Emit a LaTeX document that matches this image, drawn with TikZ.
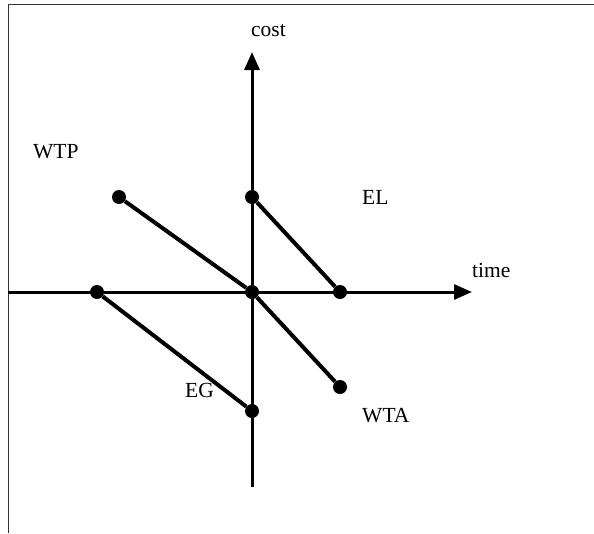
\documentclass[tikz,border=0pt]{standalone}
\usepackage{fontspec}
\setmainfont{Liberation Serif}
\usetikzlibrary{arrows.meta}

\begin{document}
\begin{tikzpicture}[x=1pt, y=-1pt,
    dot/.style={circle, fill=black, inner sep=0pt, minimum size=14pt},
    axis/.style={-{Triangle[length=18pt, width=15pt]}, line width=3pt},
    seg/.style={line width=4pt},
    lbl/.style={anchor=base west, inner sep=0pt, font=\fontsize{21.5}{26}\selectfont},
]
\useasboundingbox (0,0) rectangle (594,533);
% frame
\draw[line width=1pt, black!80] (8,533) -- (8,4) -- (594,4);

% axes
\coordinate (xstart) at (8,292);
\coordinate (xend) at (472,292);
\coordinate (ystart) at (252,487);
\coordinate (yend) at (252,52);
\draw[axis] (xstart) -- (xend);
\draw[axis] (ystart) -- (yend);

% points
\node[dot] (orig) at (252,292) {};
\node[dot] (wtp) at (119,197) {};
\node[dot] (elcost) at (252,197) {};
\node[dot] (eltime) at (340,292) {};
\node[dot] (egtime) at (97,292) {};
\node[dot] (egcost) at (252,411) {};
\node[dot] (wta) at (340,387) {};

\draw[seg] (wtp) -- (orig) -- (wta);
\draw[seg] (elcost) -- (eltime);
\draw[seg] (egtime) -- (egcost);

% labels
\node[lbl] (costlbl) at (251,36) {cost};
\node[lbl] (timelbl) at (472,277) {time};
\node[lbl] (wtplbl) at (33,158) {WTP};
\node[lbl] (ellbl) at (362,204) {EL};
\node[lbl] (eglbl) at (185,397) {EG};
\node[lbl] (wtalbl) at (362,422) {WTA};
\end{tikzpicture}
\end{document}
